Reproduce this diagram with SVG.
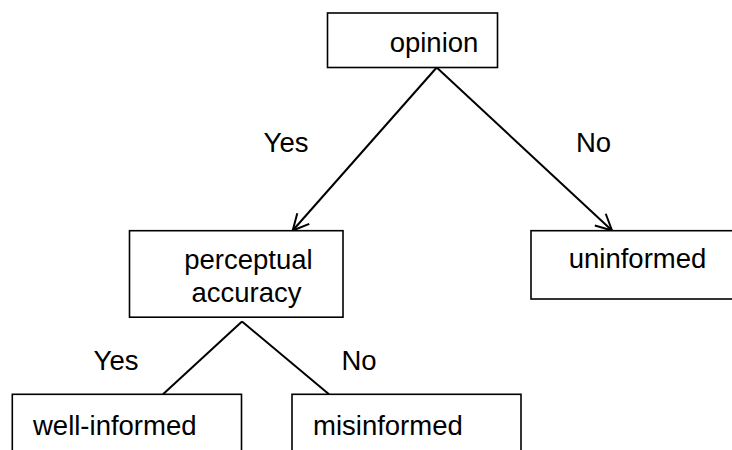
<svg xmlns="http://www.w3.org/2000/svg" width="732" height="450" viewBox="0 0 732 450">
<style>
.box{fill:#fff;stroke:#000;stroke-width:1.6}
.t{font-family:"Liberation Sans",Arial,sans-serif;font-size:27.5px;fill:#000}
.m{text-anchor:middle}
.c{fill:none;stroke:#000;stroke-width:2}
</style>
<defs>
<marker id="arr" viewBox="0 0 18 18" refX="17" refY="9" markerWidth="18" markerHeight="18" markerUnits="userSpaceOnUse" orient="auto">
<path d="M1,1 L17,9 L1,17" fill="none" stroke="#000" stroke-width="2"/>
</marker>
</defs>
<rect width="732" height="450" fill="#fff"/>
<g id="connectors">
<line class="c" x1="436.7" y1="67.5" x2="292.7" y2="230.5" marker-end="url(#arr)"/>
<line class="c" x1="436.7" y1="67.5" x2="612" y2="230.5" marker-end="url(#arr)"/>
<line class="c" x1="242" y1="321.5" x2="163" y2="394.3"/>
<line class="c" x1="242" y1="321.5" x2="329" y2="394.3"/>
<text class="t m" x="286" y="152">Yes</text>
<text class="t m" x="593.5" y="152">No</text>
<text class="t m" x="116" y="370">Yes</text>
<text class="t m" x="359" y="370">No</text>
</g>
<g id="opinion">
<rect class="box" x="327.5" y="13" width="170" height="54.5"/>
<text class="t m" x="434" y="52">opinion</text>
</g>
<g id="perceptual">
<rect class="box" x="129.5" y="230.7" width="213.5" height="86.5"/>
<text class="t m" x="248.5" y="269">perceptual</text>
<text class="t m" x="246.5" y="302">accuracy</text>
</g>
<g id="uninformed">
<rect class="box" x="531" y="230.7" width="210" height="68.3"/>
<text class="t m" x="637.5" y="268">uninformed</text>
</g>
<g id="wellinformed">
<rect class="box" x="12.3" y="394.3" width="229.2" height="70"/>
<text class="t" x="33" y="435">well-informed</text>
</g>
<g id="misinformed">
<rect class="box" x="292" y="394.3" width="229" height="70"/>
<text class="t" x="313" y="435">misinformed</text>
</g>
</svg>
